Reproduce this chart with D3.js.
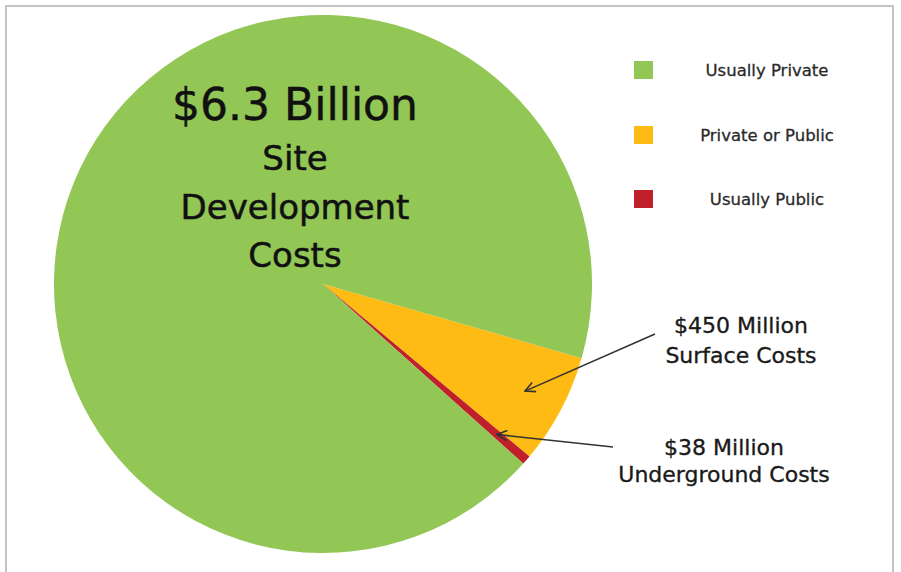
<!DOCTYPE html>
<html><head><meta charset="utf-8">
<script src="https://cdn.jsdelivr.net/npm/d3@7"></script>
<style>html,body{margin:0;padding:0;background:#fff;} svg{display:block;}</style>
</head><body>
<svg id="chart" width="901" height="572"></svg>
<script>
// Data
const categories = ["Surface Costs", "Underground Costs", "Site Development Costs"];
const values = [450, 38, 6300]; // millions of dollars
const valueLabels = ["$450 Million", "$38 Million", "$6.3 Billion"];
const fundingTypes = ["Private or Public", "Usually Public", "Usually Private"];
const legendOrder = ["Usually Private", "Private or Public", "Usually Public"];
const colors = {"Usually Private": "#92c655", "Private or Public": "#fdbb13", "Usually Public": "#c0202a"};

const svg = d3.select("#chart");
const font = "'DejaVu Sans', Verdana, sans-serif";

// frame
svg.append("path").attr("d", "M6,580 V6 H893 V580")
  .attr("fill", "none").attr("stroke", "#c4c4c4").attr("stroke-width", 2);

const cx = 323, cy = 284, r = 269;
const startDeg = 106;
const pie = d3.pie().sort(null).value(d => d)
  .startAngle(startDeg * Math.PI / 180).endAngle(startDeg * Math.PI / 180 + 2 * Math.PI);
const arcs = pie(values);
const arc = d3.arc().innerRadius(0).outerRadius(r);

const g = svg.append("g").attr("transform", `translate(${cx},${cy})`);
g.selectAll("path.slice").data(arcs).join("path")
  .attr("class", "slice")
  .attr("d", arc)
  .attr("fill", (d, i) => colors[fundingTypes[i]]);

// center label
const big = svg.append("g").attr("font-family", font).attr("fill", "#111").attr("text-anchor", "middle")
  .attr("stroke", "#111").attr("stroke-width", 0.5);
big.append("text").attr("x", 295).attr("y", 120).attr("font-size", 44).text(valueLabels[2]);
["Site", "Development", "Costs"].forEach((t, i) => {
  big.append("text").attr("x", 295).attr("y", 170 + i * 48.5).attr("font-size", 34).text(t);
});

// callout labels
const lab = svg.append("g").attr("font-family", font).attr("fill", "#1a1a1a").attr("text-anchor", "middle").attr("font-size", 22)
  .attr("stroke", "#1a1a1a").attr("stroke-width", 0.35);
lab.append("text").attr("x", 741).attr("y", 333).text(valueLabels[0]);
lab.append("text").attr("x", 741).attr("y", 363).text("Surface Costs");
lab.append("text").attr("x", 724).attr("y", 455).text(valueLabels[1]);
lab.append("text").attr("x", 724).attr("y", 482).text("Underground Costs");

// arrows
svg.append("defs").append("marker").attr("id", "ah")
  .attr("viewBox", "0 0 12 12").attr("refX", 11).attr("refY", 6)
  .attr("markerWidth", 12).attr("markerHeight", 12).attr("markerUnits", "userSpaceOnUse")
  .attr("orient", "auto")
  .append("path").attr("d", "M1,1 L11,6 L1,11").attr("fill", "none").attr("stroke", "#333").attr("stroke-width", 1.6);

function tipFor(i, frac) {
  const a = (arcs[i].startAngle + arcs[i].endAngle) / 2;
  return [cx + Math.sin(a) * r * frac, cy - Math.cos(a) * r * frac];
}
const t0 = tipFor(0, 0.85);
const t1 = tipFor(1, 0.855);
svg.append("line").attr("x1", 655).attr("y1", 334).attr("x2", t0[0]).attr("y2", t0[1])
  .attr("stroke", "#333").attr("stroke-width", 1.6).attr("marker-end", "url(#ah)");
svg.append("line").attr("x1", 613).attr("y1", 447).attr("x2", t1[0]).attr("y2", t1[1])
  .attr("stroke", "#333").attr("stroke-width", 1.6).attr("marker-end", "url(#ah)");

// legend
const leg = svg.append("g").attr("font-family", font).attr("font-size", 16.5);
const legY = [70, 135, 199];
legendOrder.forEach((k, i) => {
  leg.append("rect").attr("x", 634).attr("y", legY[i] - 9).attr("width", 19).attr("height", 18).attr("fill", colors[k]);
  leg.append("text").attr("x", 767).attr("y", legY[i] + 6).attr("text-anchor", "middle").attr("fill", "#2a2a2a")
    .attr("stroke", "#2a2a2a").attr("stroke-width", 0.3).text(k);
});
</script>
</body></html>
